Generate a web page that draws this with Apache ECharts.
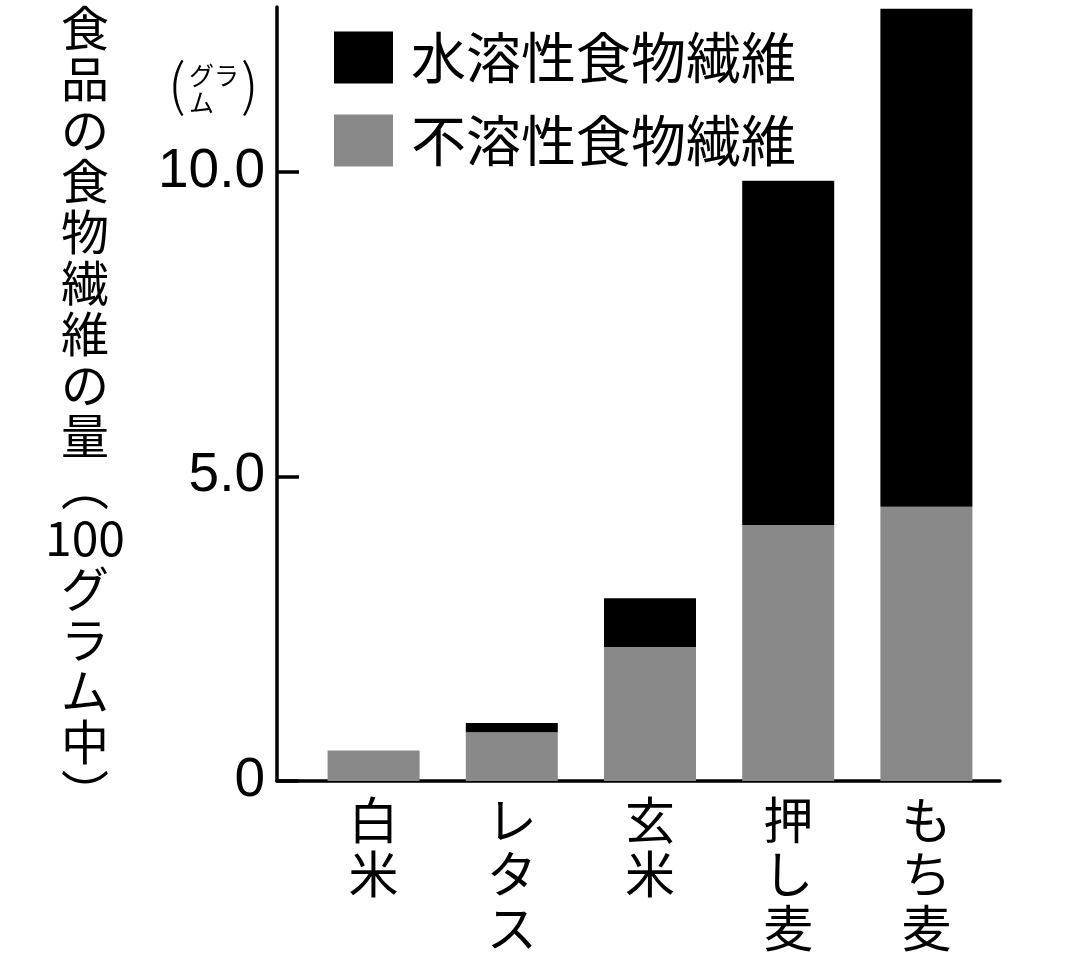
<!DOCTYPE html>
<html><head><meta charset="utf-8">
<script src="https://cdn.jsdelivr.net/npm/echarts@6/dist/echarts.min.js"></script>
<style>html,body{margin:0;padding:0;background:#fff}#c{width:1080px;height:962px}</style>
</head><body><div id="c"></div>
<script>
const categories = ['白米', 'レタス', '玄米', '押し麦', 'もち麦'];
const insoluble = [0.5, 0.8, 2.2, 4.2, 4.5];
const soluble = [0, 0.15, 0.8, 5.65, 8.17];
const yTicks = [0, 5, 10];
const seriesNames = ['水溶性食物繊維', '不溶性食物繊維'];
const yTitle = ['食','品','の','食','物','繊','維','の','量','︵','100','グ','ラ','ム','中','︶'];
const FONT = '"Noto Sans CJK JP", "Noto Sans", sans-serif';
const NUMFONT = '"Liberation Sans", Arial, sans-serif';
const Y_MAX = 12.7;

const chart = echarts.init(document.getElementById('c'));
chart.setOption({
  backgroundColor: '#fff',
  animation: false,
  textStyle: { fontFamily: FONT, color: '#000' },
  legend: {
    data: seriesNames,
    orient: 'vertical',
    left: 329, top: 25,
    itemWidth: 59, itemHeight: 52, itemGap: 28,
    icon: 'rect',
    textStyle: { fontSize: 55, lineHeight: 52, color: '#000', fontFamily: FONT, padding: [0, 0, 0, 13] },
    selectedMode: false
  },
  grid: [
    { left: 304.5, right: 84.5, top: 7, bottom: 181 },
    { left: 277, right: 80, top: 7, bottom: 181 }
  ],
  xAxis: [
    { type: 'category', gridIndex: 0, data: categories,
      axisLine: { show: false }, axisTick: { show: false },
      axisLabel: { fontSize: 50, lineHeight: 54, color: '#000', margin: 12, fontFamily: FONT,
        formatter: v => v.split('').join('\n') } },
    { type: 'value', gridIndex: 1, min: 0, max: 1,
      axisLine: { show: true, lineStyle: { color: '#000', width: 3.5 } },
      axisTick: { show: false }, axisLabel: { show: false }, splitLine: { show: false } }
  ],
  yAxis: [
    { type: 'value', gridIndex: 0, min: 0, max: Y_MAX, show: false },
    { type: 'value', gridIndex: 1, min: 0, max: Y_MAX,
      axisLine: { show: true, lineStyle: { color: '#000', width: 3.5 } },
      axisTick: { show: true, inside: true, length: 22, lineStyle: { color: '#000', width: 3.5 }, customValues: yTicks },
      axisLabel: { fontSize: 55, color: '#000', margin: 12, fontFamily: NUMFONT, customValues: yTicks,
        formatter: v => v === 0 ? '0' : v.toFixed(1) },
      splitLine: { show: false } }
  ],
  series: [
    { name: seriesNames[1], type: 'bar', stack: 'f', xAxisIndex: 0, yAxisIndex: 0,
      data: insoluble, barWidth: 92, itemStyle: { color: '#898989' } },
    { name: seriesNames[0], type: 'bar', stack: 'f', xAxisIndex: 0, yAxisIndex: 0,
      data: soluble, barWidth: 92, itemStyle: { color: '#000' } }
  ],
  graphic: [
    { type: 'text', x: 85, y: 2,
      style: { text: yTitle.join('\n'), font: '48px ' + FONT, lineHeight: 51, fill: '#000', align: 'center' } },
    { type: 'text', left: 168, top: 56, style: { text: '(', font: '300 56px ' + FONT, fill: '#000' } },
    { type: 'text', left: 189, top: 62, style: { text: 'グラ\nム', font: '25px ' + FONT, lineHeight: 27, fill: '#000' } },
    { type: 'text', left: 241, top: 56, style: { text: ')', font: '300 56px ' + FONT, fill: '#000' } }
  ]
});
</script></body></html>
